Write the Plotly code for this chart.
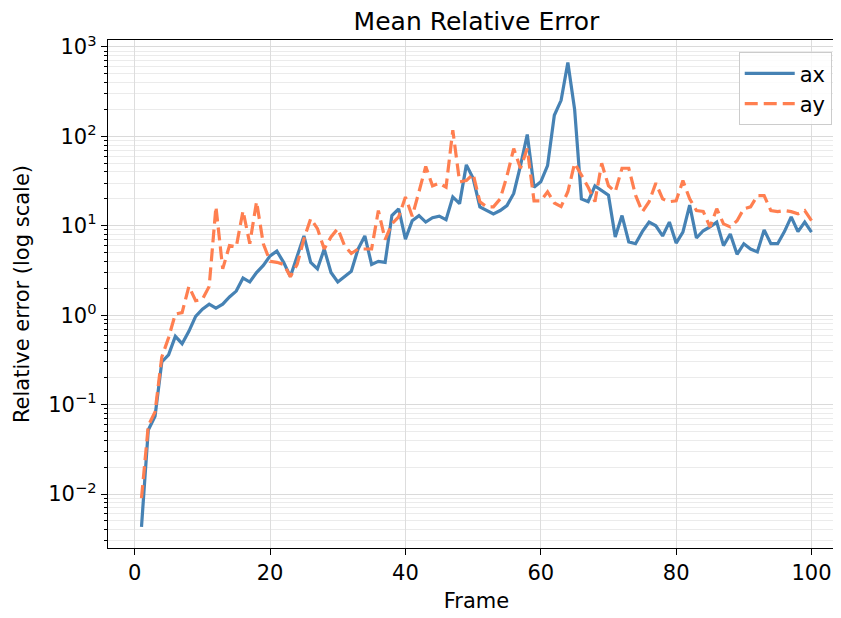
import plotly.graph_objects as go

frames = list(range(1, 101))

ax_err = [0.0043, 0.052, 0.074, 0.30, 0.36, 0.58, 0.48, 0.66, 0.97, 1.17,
          1.33, 1.2, 1.33, 1.6, 1.86, 2.6, 2.35, 3.0, 3.6, 4.6,
          5.2, 3.9, 2.7, 4.6, 7.7, 3.9, 3.3, 5.5, 3.0, 2.35,
          2.7, 3.1, 5.5, 7.7, 3.7, 4.0, 3.9, 13, 15.5, 7.1,
          11.4, 13, 11, 12.3, 12.8, 11.7, 21, 17.7, 48, 34,
          16.3, 14.8, 13.6, 14.8, 16.8, 23, 47, 105, 27, 31,
          47, 172, 253, 670, 200, 20, 18.6, 28, 25, 22,
          7.5, 13, 6.6, 6.3, 8.6, 11, 10, 7.7, 11, 6.4,
          8.5, 17, 7.3, 8.8, 9.7, 11, 6.0, 8.1, 4.8, 6.3,
          5.5, 5.1, 9.0, 6.3, 6.3, 8.6, 12.6, 8.6, 11, 8.5]

ay_err = [0.009, 0.058, 0.083, 0.34, 0.56, 1.03, 1.07, 2.1, 1.45, 1.5,
          2.1, 16.4, 3.3, 6.0, 5.8, 14.7, 6.3, 18.6, 6.3, 4.0,
          3.9, 3.7, 2.7, 3.7, 7.1, 12, 9.3, 5.5, 7.5, 9.3,
          6.0, 4.9, 5.5, 5.5, 5.5, 14.8, 7.0, 10.5, 12.6, 21,
          12.8, 24, 46, 28, 30, 27, 117, 31, 32, 38,
          18.5, 16.3, 16.3, 20, 36, 73, 44, 73, 19, 19,
          24, 18, 16.4, 24, 50, 37, 27, 18.6, 50, 28,
          24, 44, 44, 22, 14.3, 18.6, 30, 20, 18.6, 19,
          32, 20, 14.8, 14.5, 9.7, 15.5, 10.5, 9.7, 11.4, 15.5,
          16.3, 21.7, 21.7, 14.8, 14.4, 14.8, 14.4, 13.6, 14.8, 11.4]

y_major = [1e-2, 1e-1, 1e0, 1e1, 1e2, 1e3]
y_major_text = ["10<sup>−2</sup>", "10<sup>−1</sup>", "10<sup>0</sup>",
                "10<sup>1</sup>", "10<sup>2</sup>", "10<sup>3</sup>"]
y_minor = [m * 10 ** e for e in range(-3, 3) for m in range(2, 10)]
x_ticks = [0, 20, 40, 60, 80, 100]

fig = go.Figure()
fig.add_trace(go.Scatter(x=frames, y=ax_err, mode="lines", name="ax",
                         line=dict(color="#4682B4", width=3.2)))
fig.add_trace(go.Scatter(x=frames, y=ay_err, mode="lines", name="ay",
                         line=dict(color="#FF7F50", width=3.2, dash="13px,6px")))

font = "DejaVu Sans"
fig.update_layout(
    width=841, height=610,
    margin=dict(l=100, r=4, t=32, b=70, autoexpand=False),
    paper_bgcolor="white", plot_bgcolor="white",
    font=dict(family=font, size=21, color="black"),
    title=dict(text="Mean Relative Error", x=0.5, xref="paper", xanchor="center",
               y=0.979, yref="container", yanchor="middle",
               font=dict(size=25, family=font)),
    legend=dict(x=0.982, y=0.976, xanchor="right", yanchor="top",
                bgcolor="rgba(255,255,255,0.85)", bordercolor="#cccccc", borderwidth=1,
                font=dict(size=21, family=font), tracegroupgap=4,
                itemwidth=50),
    showlegend=True,
)
fig.update_xaxes(
    range=[-3.95, 104.95], tickvals=x_ticks, ticks="outside", ticklen=6, tickwidth=1.3,
    tickcolor="black", showline=True, linecolor="black", linewidth=1.4, mirror=True,
    showgrid=True, gridcolor="#dddddd", gridwidth=1, zeroline=False, automargin=False,
    title=dict(text="Frame", font=dict(size=21), standoff=8),
    tickfont=dict(size=21),
)
fig.update_yaxes(
    type="log", range=[-2.604, 3.078], tickmode="array", tickvals=y_major,
    ticktext=y_major_text, ticks="outside", ticklen=6, tickwidth=1.3, tickcolor="black",
    showline=True, linecolor="black", linewidth=1.4, mirror=True,
    showgrid=True, gridcolor="#dadada", gridwidth=1, zeroline=False, automargin=False,
    minor=dict(tickmode="array", tickvals=y_minor, ticks="outside", ticklen=3,
               tickcolor="black", showgrid=True, gridcolor="#ebebeb", gridwidth=1),
    title=dict(text="Relative error (log scale)", font=dict(size=21), standoff=12),
    tickfont=dict(size=21),
)

fig.write_html("out.html")
